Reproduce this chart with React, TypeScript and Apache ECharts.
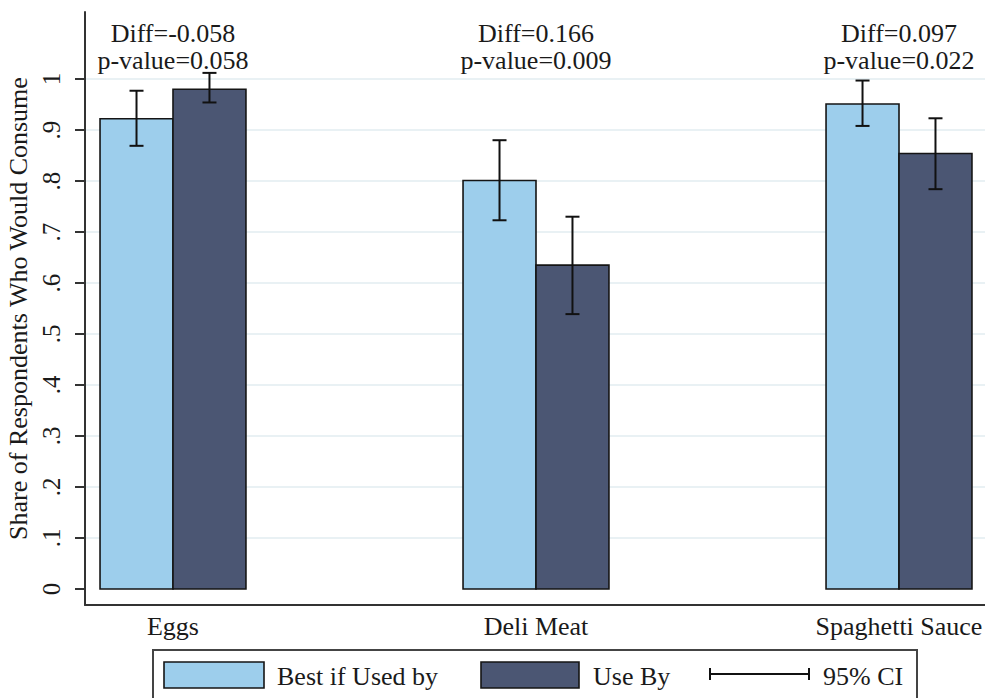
import React, { useEffect, useRef } from "react";
import * as echarts from "echarts";

const categories = ["Eggs", "Deli Meat", "Spaghetti Sauce"];
const bestIfUsedBy = [0.922, 0.801, 0.951];
const bestLo = [0.869, 0.723, 0.908];
const bestHi = [0.977, 0.880, 0.997];
const useBy = [0.980, 0.635, 0.854];
const useByLo = [0.954, 0.539, 0.784];
const useByHi = [1.012, 0.730, 0.923];
const diffs = [-0.058, 0.166, 0.097];
const pValues = [0.058, 0.009, 0.022];
const yTicks = [0, 0.1, 0.2, 0.3, 0.4, 0.5, 0.6, 0.7, 0.8, 0.9, 1];
const yTickLabels = ["0", ".1", ".2", ".3", ".4", ".5", ".6", ".7", ".8", ".9", "1"];
const gridValues = [0.1, 0.2, 0.3, 0.4, 0.5, 0.6, 0.7, 0.8, 0.9, 1];

const LIGHT = "#9dceec";
const DARK = "#4b5673";
const EDGE = "#151515";
const FONT = "'Liberation Serif', 'Times New Roman', serif";
const HALF = 0.201; // bar width in x units
const X_MIN = 0.7576;
const X_MAX = 3.2369;

export default function App() {
  const ref = useRef<HTMLDivElement>(null);
  useEffect(() => {
    if (!ref.current) return;
    const chart = echarts.init(ref.current, null, { renderer: "svg" });
    const pos = categories.map((_, i) => i + 1);

    const barSeries = (name: string, vals: number[], color: string, side: number) => ({
      name,
      type: "custom",
      z: 3,
      data: vals.map((v, i) => [pos[i], v]),
      renderItem: (params: any, api: any) => {
        const x = api.value(0);
        const v = api.value(1);
        const x0 = side < 0 ? x - HALF : x;
        const x1 = side < 0 ? x : x + HALF;
        const p0 = api.coord([x0, v]);
        const p1 = api.coord([x1, 0]);
        return {
          type: "rect",
          shape: { x: p0[0], y: p0[1], width: p1[0] - p0[0], height: p1[1] - p0[1] },
          style: { fill: color, stroke: EDGE, lineWidth: 1.6 },
        };
      },
    });

    const errSeries = (lo: number[], hi: number[], side: number) => ({
      type: "custom",
      z: 5,
      data: lo.map((l, i) => [pos[i], l, hi[i]]),
      renderItem: (params: any, api: any) => {
        const x = api.value(0) + side * HALF / 2;
        const a = api.coord([x, api.value(1)]);
        const b = api.coord([x, api.value(2)]);
        const st = { stroke: "#111", lineWidth: 2 };
        return {
          type: "group",
          children: [
            { type: "line", shape: { x1: a[0], y1: a[1], x2: b[0], y2: b[1] }, style: st },
            { type: "line", shape: { x1: a[0] - 7, y1: a[1], x2: a[0] + 7, y2: a[1] }, style: st },
            { type: "line", shape: { x1: b[0] - 7, y1: b[1], x2: b[0] + 7, y2: b[1] }, style: st },
          ],
        };
      },
    });

    const option: any = {
      animation: false,
      backgroundColor: "#ffffff",
      grid: { left: 85, right: 0, top: 12, bottom: 93, containLabel: false, outerBoundsMode: "none" },
      xAxis: {
        type: "value",
        min: X_MIN,
        max: X_MAX,
        splitLine: { show: false },
        axisTick: { show: false },
        axisLine: { show: true, onZero: false, lineStyle: { color: "#333", width: 2 } },
        axisLabel: {
          customValues: pos,
          formatter: (v: number) => categories[Math.round(v) - 1] ?? "",
          fontFamily: FONT,
          fontSize: 26,
          color: "#1a1a1a",
          margin: 8,
          hideOverlap: false,
        },
      },
      yAxis: {
        type: "value",
        min: -0.0314,
        max: 1.1314,
        name: "Share of Respondents Who Would Consume",
        nameLocation: "middle",
        nameRotate: 90,
        nameGap: 47,
        nameTextStyle: { fontFamily: FONT, fontSize: 26, color: "#1a1a1a" },
        splitLine: { show: false },
        axisLine: { show: true, onZero: false, lineStyle: { color: "#333", width: 2 } },
        axisTick: { show: true, customValues: yTicks, length: 10, lineStyle: { color: "#333", width: 2 } },
        axisLabel: {
          customValues: yTicks,
          rotate: 90,
          formatter: (v: number) => {
            const i = yTicks.findIndex((t) => Math.abs(t - v) < 1e-6);
            return i >= 0 ? yTickLabels[i] : "";
          },
          fontFamily: FONT,
          fontSize: 25,
          color: "#1a1a1a",
          margin: 21,
        },
      },
      series: [
        {
          type: "custom",
          z: 1,
          silent: true,
          data: gridValues.map((g) => [g]),
          renderItem: (params: any, api: any) => {
            const a = api.coord([X_MIN, api.value(0)]);
            const b = api.coord([X_MAX, api.value(0)]);
            return {
              type: "line",
              shape: { x1: a[0] + 1, y1: a[1], x2: b[0], y2: b[1] },
              style: { stroke: "#e9f1f4", lineWidth: 2 },
            };
          },
        },
        barSeries("Best if Used by", bestIfUsedBy, LIGHT, -1),
        barSeries("Use By", useBy, DARK, 1),
        errSeries(bestLo, bestHi, -1),
        errSeries(useByLo, useByHi, 1),
        {
          type: "custom",
          z: 6,
          silent: true,
          data: diffs.map((d, i) => [pos[i], d, pValues[i]]),
          renderItem: (params: any, api: any) => {
            const p = api.coord([api.value(0), 1]);
            const d = api.value(1);
            const pv = api.value(2);
            const ts = (t: string) => ({
              text: t,
              fill: "#1a1a1a",
              font: `26px ${FONT}`,
              align: "center",
              verticalAlign: "middle",
            });
            return {
              type: "group",
              children: [
                { type: "text", x: p[0], y: p[1] - 46, style: ts(`Diff=${d.toFixed(3)}`) },
                { type: "text", x: p[0], y: p[1] - 19, style: ts(`p-value=${pv.toFixed(3)}`) },
              ],
            };
          },
        },
      ],
      graphic: [
        {
          type: "rect",
          shape: { x: 153, y: 650, width: 764, height: 80 },
          style: { fill: "#fff", stroke: "#444", lineWidth: 2 },
        },
        {
          type: "rect",
          shape: { x: 164, y: 662, width: 100, height: 26 },
          style: { fill: LIGHT, stroke: EDGE, lineWidth: 1.6 },
        },
        {
          type: "text",
          x: 277,
          y: 676,
          style: { text: "Best if Used by", font: `26px ${FONT}`, fill: "#1a1a1a", verticalAlign: "middle" },
        },
        {
          type: "rect",
          shape: { x: 481, y: 662, width: 98, height: 26 },
          style: { fill: DARK, stroke: EDGE, lineWidth: 1.6 },
        },
        {
          type: "text",
          x: 593,
          y: 676,
          style: { text: "Use By", font: `26px ${FONT}`, fill: "#1a1a1a", verticalAlign: "middle" },
        },
        { type: "line", shape: { x1: 710, y1: 674, x2: 809, y2: 674 }, style: { stroke: "#111", lineWidth: 2 } },
        { type: "line", shape: { x1: 710, y1: 668, x2: 710, y2: 680 }, style: { stroke: "#111", lineWidth: 2 } },
        { type: "line", shape: { x1: 809, y1: 668, x2: 809, y2: 680 }, style: { stroke: "#111", lineWidth: 2 } },
        {
          type: "text",
          x: 823,
          y: 676,
          style: { text: "95% CI", font: `26px ${FONT}`, fill: "#1a1a1a", verticalAlign: "middle" },
        },
      ],
    };
    chart.setOption(option);
    return () => chart.dispose();
  }, []);
  return (
    <div
      ref={ref}
      style={{ position: "absolute", left: 0, top: 0, width: 985, height: 698, background: "#fff" }}
    />
  );
}
